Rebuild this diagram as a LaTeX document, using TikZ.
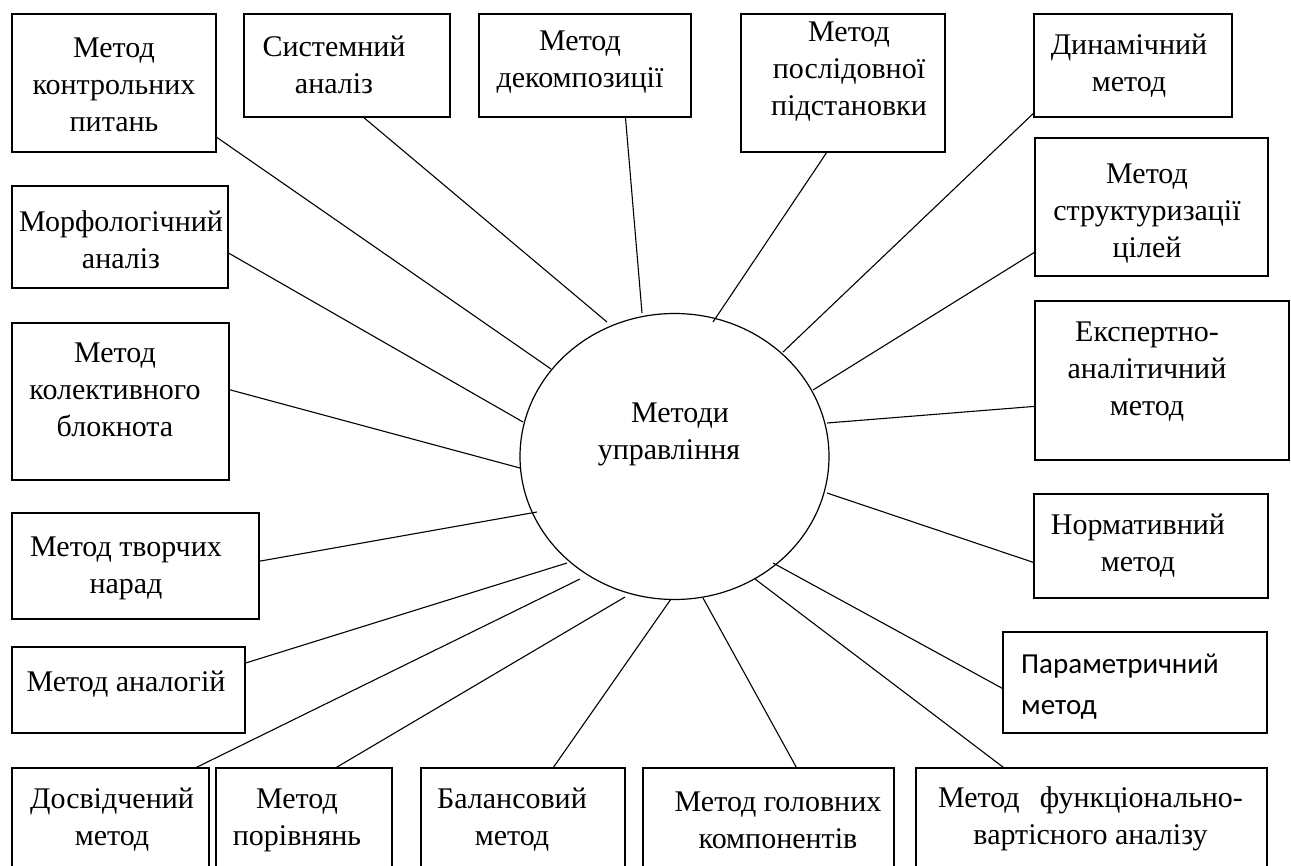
\documentclass[tikz,border=0pt]{standalone}
\usepackage{fontspec}
\setmainfont{Liberation Serif}
\newfontfamily\calfont{Carlito}
\usetikzlibrary{shapes.geometric}
\begin{document}
\begin{tikzpicture}[x=1pt,y=-1pt,
  box/.style={draw, line width=1.2pt, rectangle, inner sep=0pt},
  lbl/.style={align=center, font=\fontsize{30}{37}\selectfont, inner sep=0pt},
  conn/.style={line width=1.1pt}]
\useasboundingbox (0,0) rectangle (1291,866);
\clip (0,0) rectangle (1291,866);

% boxes
\node[box, minimum width=204, minimum height=138] (b1) at (114,83) {};
\node[box, minimum width=206, minimum height=103] (b2) at (347,65.5) {};
\node[box, minimum width=212, minimum height=103] (b3) at (585,65.5) {};
\node[box, minimum width=204, minimum height=138] (b4) at (843,83) {};
\node[box, minimum width=198, minimum height=103] (b5) at (1133,65.5) {};
\node[box, minimum width=233, minimum height=138] (b6) at (1151.5,207) {};
\node[box, minimum width=254, minimum height=159] (b7) at (1162,380.5) {};
\node[box, minimum width=234, minimum height=104] (b8) at (1151,546) {};
\node[box, minimum width=264, minimum height=101] (b9) at (1135,682.5) {};
\node[box, minimum width=351, minimum height=122] (b10) at (1091.5,829) {};
\node[box, minimum width=251, minimum height=122] (b11) at (768.5,829) {};
\node[box, minimum width=204, minimum height=122] (b12) at (523,829) {};
\node[box, minimum width=176, minimum height=122] (b13) at (304,829) {};
\node[box, minimum width=197, minimum height=122] (b14) at (110.5,829) {};
\node[box, minimum width=233, minimum height=86] (b15) at (128.5,690) {};
\node[box, minimum width=247, minimum height=106] (b16) at (135.5,566) {};
\node[box, minimum width=217, minimum height=157] (b17) at (120.5,401.5) {};
\node[box, minimum width=216, minimum height=102] (b18) at (120,237) {};

% centre
\node[draw, ellipse, line width=1.2pt, inner sep=0pt, minimum width=309, minimum height=286] (c) at (674.5,456.5) {};

% texts
\node[lbl] (t1) at (114,85) {Метод\\контрольних\\питань};
\node[lbl] (t2) at (334,65) {Системний\\аналіз};
\node[lbl] (t3) at (580,62) {Метод\\декомпозиції};
\node[lbl] (t4) at (849,72) {Метод\\послідовної\\підстановки};
\node[lbl] (t5) at (1129,66) {Динамічний\\метод};
\node[lbl] (t6) at (1147,214) {Метод\\структуризації\\цілей};
\node[lbl] (t7) at (1147,372) {Експертно-\\аналітичний\\метод};
\node[lbl] (t8) at (1138,546) {Нормативний\\метод};
\node[lbl, align=left, anchor=west, font=\calfont\fontsize{29}{41}\selectfont] (t9) at (1021,687) {Параметричний\\метод};
\node[lbl] (t10) at (1090.5,819) {\hbox to 305pt{Метод\hfill функціонально-}\\вартісного аналізу};
\node[lbl] (t11) at (778,820) {Метод головних\\компонентів};
\node[lbl] (t12) at (512,820) {Балансовий\\метод};
\node[lbl] (t13) at (297,820) {Метод\\порівнянь};
\node[lbl] (t14) at (112,820) {Досвідчений\\метод};
\node[lbl] (t15) at (126,684) {Метод аналогій};
\node[lbl] (t16) at (126,568) {Метод творчих\\нарад};
\node[lbl] (t17) at (115,390) {Метод\\колективного\\блокнота};
\node[lbl] (t18) at (121,240) {Морфологічний\\аналіз};
\node[lbl] (tc) at (669,434) {\hspace*{22pt}Методи\\управління};

% connector ends near the ellipse
\coordinate (e1) at (551,369);
\coordinate (e2) at (607,322);
\coordinate (e3) at (642,313);
\coordinate (e4) at (713,322);
\coordinate (e5) at (783,352);
\coordinate (e6) at (813,390);
\coordinate (e7) at (827,423);
\coordinate (e8) at (827,493);
\coordinate (e9) at (773,563);
\coordinate (e10) at (755,579);
\coordinate (e11) at (703,598);
\coordinate (e12) at (671,599);
\coordinate (e13) at (625,597);
\coordinate (e14) at (580,579);
\coordinate (e15) at (567,563);
\coordinate (e16) at (537,512);
\coordinate (e17) at (520,468);
\coordinate (e18) at (523,422);

% connectors
\draw[conn] ([shift={(204,123)}]b1.north west) -- (e1);
\draw[conn] ([shift={(119,103)}]b2.north west) -- (e2);
\draw[conn] ([shift={(147,103)}]b3.north west) -- (e3);
\draw[conn] ([shift={(87,138)}]b4.north west) -- (e4);
\draw[conn] ([shift={(0,100)}]b5.north west) -- (e5);
\draw[conn] ([shift={(0,115)}]b6.north west) -- (e6);
\draw[conn] ([shift={(0,106)}]b7.north west) -- (e7);
\draw[conn] ([shift={(0,69)}]b8.north west) -- (e8);
\draw[conn] ([shift={(0,57)}]b9.north west) -- (e9);
\draw[conn] ([shift={(88,0)}]b10.north west) -- (e10);
\draw[conn] ([shift={(154,0)}]b11.north west) -- (e11);
\draw[conn] ([shift={(133,0)}]b12.north west) -- (e12);
\draw[conn] ([shift={(121,0)}]b13.north west) -- (e13);
\draw[conn] ([shift={(185,0)}]b14.north west) -- (e14);
\draw[conn] ([shift={(233,17)}]b15.north west) -- (e15);
\draw[conn] ([shift={(247,49)}]b16.north west) -- (e16);
\draw[conn] ([shift={(217,67)}]b17.north west) -- (e17);
\draw[conn] ([shift={(216,67)}]b18.north west) -- (e18);
\end{tikzpicture}
\end{document}
